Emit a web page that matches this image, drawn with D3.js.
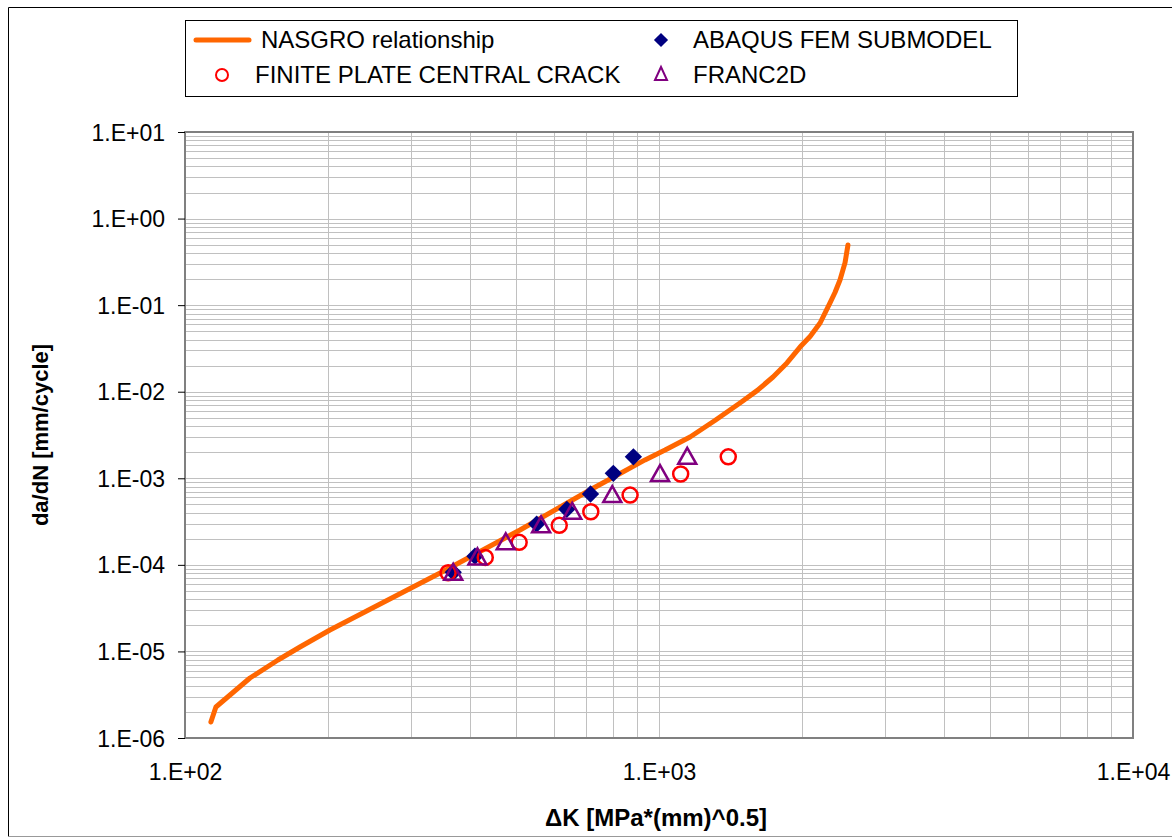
<!DOCTYPE html>
<html><head><meta charset="utf-8">
<script src="https://cdn.jsdelivr.net/npm/d3@7"></script>
<style>
html,body{margin:0;padding:0;background:#fff;overflow:hidden}
svg{display:block;font-family:Arial,"Liberation Sans",sans-serif}
</style></head>
<body>
<svg id="chart" width="1172" height="839"></svg>
<script>
// ---- data ----
const nasgroDK   = [113.4,116.2,137.1,157.1,174.8,202.2,302.7,348.5,509.1,715.1,934.3,1030,1163,1312,1482,1610,1740,1862,1984,2083,2187,2295,2351,2409,2469,2504];
const nasgroRate = [1.53e-6,2.28e-6,4.93e-6,7.96e-6,1.125e-5,1.77e-5,5.55e-5,8.27e-5,2.53e-4,7.33e-4,1.63e-3,2.12e-3,3.0e-3,4.65e-3,7.41e-3,1.03e-2,1.48e-2,2.15e-2,3.28e-2,4.35e-2,6.22e-2,0.106,0.14,0.195,0.31,0.495];

const abaqusDK   = [368,409,552,639,717,801,883];
const abaqusRate = [8.2e-5,1.26e-4,2.96e-4,4.38e-4,6.58e-4,1.14e-3,1.77e-3];

const finiteDK   = [359,430,507,616,718,869,1111,1400];
const finiteRate = [8.1e-5,1.22e-4,1.82e-4,2.86e-4,4.1e-4,6.4e-4,1.12e-3,1.77e-3];

const francDK    = [368,414,475,564,656,797,1005,1147];
const francRate  = [8.1e-5,1.22e-4,1.82e-4,2.86e-4,4.1e-4,6.4e-4,1.12e-3,1.77e-3];

const xTickValues = [1e2,1e3,1e4];
const xTickLabels = ["1.E+02","1.E+03","1.E+04"];
const yTickValues = [1e-6,1e-5,1e-4,1e-3,1e-2,1e-1,1e0,1e1];
const yTickLabels = ["1.E-06","1.E-05","1.E-04","1.E-03","1.E-02","1.E-01","1.E+00","1.E+01"];

const legendLabels = ["NASGRO relationship","ABAQUS FEM SUBMODEL","FINITE PLATE CENTRAL CRACK","FRANC2D"];

// ---- drawing ----
const svg = d3.select("#chart");
const L = 185, R = 1133, T = 132, B = 738;
const x = d3.scaleLog().domain([1e2,1e4]).range([L,R]);
const y = d3.scaleLog().domain([1e-6,1e1]).range([B,T]);

// outer chart border
svg.append("line").attr("x1",8.5).attr("y1",7.5).attr("x2",1200).attr("y2",7.5).attr("stroke","#000").attr("stroke-width",1);
svg.append("line").attr("x1",8.5).attr("y1",7.5).attr("x2",8.5).attr("y2",836.5).attr("stroke","#000").attr("stroke-width",1);
svg.append("line").attr("x1",8.5).attr("y1",836.5).attr("x2",1200).attr("y2",836.5).attr("stroke","#999").attr("stroke-width",1);

// plot bg
svg.append("rect").attr("x",L).attr("y",T).attr("width",R-L).attr("height",B-T).attr("fill","#fff");

// gridlines
const g = svg.append("g");
const xGrid = [], yGrid = [];
for (let e = 2; e < 4; e++) for (let k = 1; k <= 9; k++) xGrid.push(k*Math.pow(10,e));
xGrid.push(1e4);
for (let e = -6; e < 1; e++) for (let k = 1; k <= 9; k++) yGrid.push(k*Math.pow(10,e));
yGrid.push(10);
g.selectAll(".vg").data(xGrid).enter().append("line")
  .attr("x1",d=>Math.round(x(d))+0.5).attr("x2",d=>Math.round(x(d))+0.5)
  .attr("y1",T).attr("y2",B).attr("stroke","#c0c0c0").attr("stroke-width",1);
g.selectAll(".hg").data(yGrid).enter().append("line")
  .attr("y1",d=>Math.round(y(d))+0.5).attr("y2",d=>Math.round(y(d))+0.5)
  .attr("x1",L).attr("x2",R).attr("stroke","#c0c0c0").attr("stroke-width",1);

// plot border
svg.append("rect").attr("x",L).attr("y",T).attr("width",R-L).attr("height",B-T)
  .attr("fill","none").attr("stroke","#808080").attr("stroke-width",2);

// axes
const yAxis = d3.axisLeft(y).tickValues(yTickValues)
  .tickFormat((d,i)=>yTickLabels[i]).tickSize(7).tickSizeOuter(0);
const ya = svg.append("g").attr("transform",`translate(${L},0)`).call(yAxis);
ya.select(".domain").remove();
ya.selectAll(".tick line").attr("stroke","#000");
ya.selectAll(".tick text").attr("font-size",23).attr("fill","#000")
  .attr("font-family","Arial, 'Liberation Sans', sans-serif").attr("x",-20).attr("dy","0.35em");

const xAxis = d3.axisBottom(x).tickValues(xTickValues)
  .tickFormat((d,i)=>xTickLabels[i]).tickSize(0).tickSizeOuter(0);
const xa = svg.append("g").attr("transform",`translate(0,${B})`).call(xAxis);
xa.select(".domain").remove();
xa.selectAll(".tick text").attr("font-size",23).attr("fill","#000")
  .attr("font-family","Arial, 'Liberation Sans', sans-serif").attr("y",26).attr("dy","0.71em");

// axis titles
svg.append("text").attr("x",656).attr("y",826).attr("text-anchor","middle")
  .attr("font-size",24).attr("font-weight","bold").text("ΔK [MPa*(mm)^0.5]");
svg.append("text").attr("transform","translate(48,435) rotate(-90)").attr("text-anchor","middle")
  .attr("font-size",22).attr("font-weight","bold").text("da/dN [mm/cycle]");

// series
const lineGen = d3.line().x(d=>x(d[0])).y(d=>y(d[1]));
const nasgro = nasgroDK.map((d,i)=>[d,nasgroRate[i]]);
svg.append("path").datum(nasgro).attr("d",lineGen).attr("fill","none")
  .attr("stroke","#ff6600").attr("stroke-width",5).attr("stroke-linejoin","round").attr("stroke-linecap","round");

const diamond = d3.symbol().type(d3.symbolSquare).size(150)();
const tri = "M0,-9L9,7L-9,7Z";

const abaqus = abaqusDK.map((d,i)=>[d,abaqusRate[i]]);
svg.selectAll(".ab").data(abaqus).enter().append("path")
  .attr("d",diamond).attr("transform",d=>`translate(${x(d[0])},${y(d[1])}) rotate(45)`)
  .attr("fill","#000080");

const finite = finiteDK.map((d,i)=>[d,finiteRate[i]]);
svg.selectAll(".fi").data(finite).enter().append("circle")
  .attr("cx",d=>x(d[0])).attr("cy",d=>y(d[1])).attr("r",7.5)
  .attr("fill","none").attr("stroke","#ff0000").attr("stroke-width",2.5);

const franc = francDK.map((d,i)=>[d,francRate[i]]);
svg.selectAll(".fr").data(franc).enter().append("path")
  .attr("d",tri).attr("transform",d=>`translate(${x(d[0])},${y(d[1])})`)
  .attr("fill","none").attr("stroke","#800080").attr("stroke-width",2.5).attr("stroke-linejoin","miter");

// legend
const lg = svg.append("g");
lg.append("rect").attr("x",185.5).attr("y",20.5).attr("width",832).attr("height",76)
  .attr("fill","#fff").attr("stroke","#000").attr("stroke-width",1);
lg.append("line").attr("x1",196).attr("x2",249).attr("y1",40).attr("y2",40)
  .attr("stroke","#ff6600").attr("stroke-width",5).attr("stroke-linecap","round");
lg.append("text").attr("x",261).attr("y",40).attr("dy","0.35em").attr("font-size",24).text(legendLabels[0]);
lg.append("path").attr("d",d3.symbol().type(d3.symbolSquare).size(100)())
  .attr("transform","translate(661,40) rotate(45)").attr("fill","#000080");
lg.append("text").attr("x",693).attr("y",40).attr("dy","0.35em").attr("font-size",24).text(legendLabels[1]);
lg.append("circle").attr("cx",222).attr("cy",75).attr("r",6).attr("fill","none").attr("stroke","#ff0000").attr("stroke-width",2);
lg.append("text").attr("x",255).attr("y",75).attr("dy","0.35em").attr("font-size",24).text(legendLabels[2]);
lg.append("path").attr("d","M0,-7L6,6L-6,6Z").attr("transform","translate(661,74)")
  .attr("fill","none").attr("stroke","#800080").attr("stroke-width",2);
lg.append("text").attr("x",693).attr("y",75).attr("dy","0.35em").attr("font-size",24).text(legendLabels[3]);
</script>
</body></html>
